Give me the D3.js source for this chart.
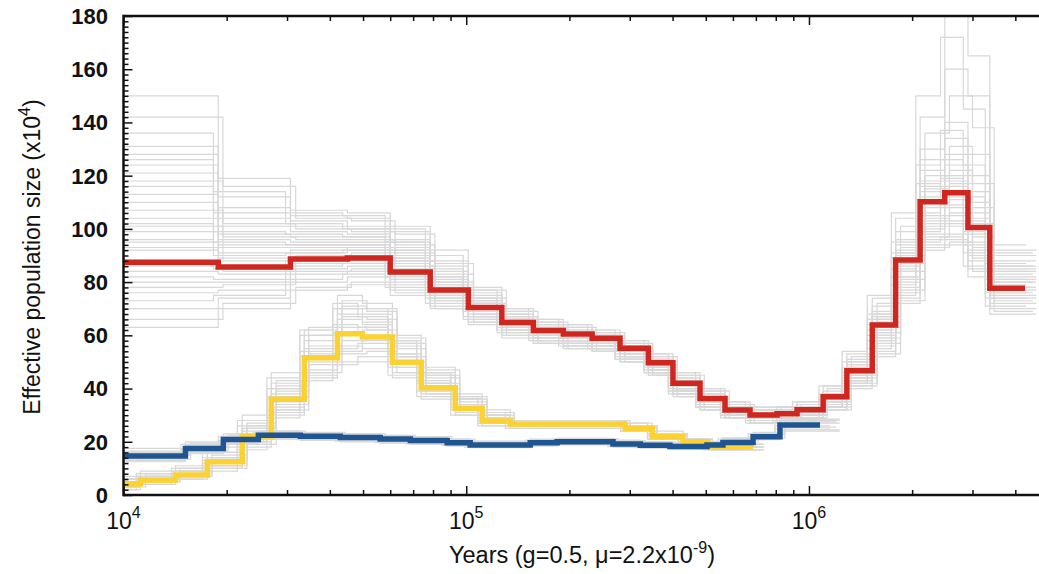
<!DOCTYPE html>
<html>
<head>
<meta charset="utf-8">
<script src="https://cdn.jsdelivr.net/npm/d3@7/dist/d3.min.js"></script>
<style>
  html, body { margin: 0; padding: 0; background: #fff; }
  svg { display: block; font-family: "Liberation Sans", Arial, Helvetica, sans-serif; }
</style>
</head>
<body>
<svg id="chart" width="1039" height="574"></svg>
<script>
// ---- data (years, effective population size x10^4) ----
const redTimes = [1.0e4, 1.89e4, 3.07e4, 4.50e4, 6.0e4, 7.85e4, 1.014e5, 1.27e5, 1.57e5, 1.92e5, 2.33e5, 2.81e5, 3.40e5, 4.01e5, 4.81e5, 5.69e5, 6.73e5, 8.07e5, 9.23e5, 1.10e6, 1.29e6, 1.53e6, 1.79e6, 2.11e6, 2.49e6, 2.91e6, 3.37e6, 4.27e6];
const redValues = [87.5, 85.7, 88.7, 89.1, 83.8, 77.0, 70.5, 64.8, 61.8, 60.5, 58.9, 55.1, 49.7, 42.0, 36.3, 31.9, 30.1, 30.5, 32.0, 36.9, 46.7, 63.9, 88.3, 110.2, 113.6, 100.5, 77.7];

const yellowTimes = [1.0e4, 1.12e4, 1.418e4, 1.757e4, 2.22e4, 2.70e4, 3.37e4, 4.21e4, 4.98e4, 6.09e4, 7.39e4, 9.29e4, 1.113e5, 1.343e5, 2.91e5, 3.49e5, 4.29e5, 5.08e5, 6.87e5];
const yellowValues = [4.1, 5.6, 7.5, 12.5, 22.0, 36.0, 51.6, 60.6, 59.4, 49.9, 40.3, 32.6, 27.8, 26.7, 25.0, 21.9, 20.0, 18.0];

const blueTimes = [1.0e4, 1.516e4, 1.956e4, 2.475e4, 3.28e4, 4.29e4, 5.61e4, 6.87e4, 8.80e4, 1.027e5, 1.537e5, 1.842e5, 2.68e5, 3.22e5, 3.93e5, 5.04e5, 5.61e5, 6.87e5, 8.23e5, 1.077e6];
const blueValues = [14.7, 17.5, 20.9, 22.5, 22.1, 21.6, 21.0, 20.5, 19.6, 18.8, 19.6, 20.0, 19.2, 18.7, 18.2, 18.8, 19.7, 21.9, 26.3];

// ---- bootstrap replicates (grey) ----
// alternative breakpoint sets used by some replicates
const redTimesB = [1.0e4, 1.95e4, 3.18e4, 4.62e4, 6.2e4, 8.1e4, 1.05e5, 1.31e5, 1.62e5, 1.98e5, 2.40e5, 2.90e5, 3.50e5, 4.13e5, 4.95e5, 5.86e5, 6.93e5, 8.3e5, 9.5e5, 1.13e6, 1.33e6, 1.58e6, 1.85e6, 2.18e6, 2.57e6, 3.0e6, 3.47e6, 4.5e6];
const redTimesC = [1.0e4, 1.83e4, 2.97e4, 4.36e4, 5.8e4, 7.6e4, 9.8e4, 1.23e5, 1.52e5, 1.86e5, 2.26e5, 2.72e5, 3.30e5, 3.89e5, 4.67e5, 5.52e5, 6.53e5, 7.83e5, 8.95e5, 1.07e6, 1.25e6, 1.48e6, 1.74e6, 2.05e6, 2.42e6, 2.82e6, 3.27e6, 4.3e6];
const redTimesA = [1.0e4, 1.89e4, 3.07e4, 4.50e4, 6.0e4, 7.85e4, 1.014e5, 1.27e5, 1.57e5, 1.92e5, 2.33e5, 2.81e5, 3.40e5, 4.01e5, 4.81e5, 5.69e5, 6.73e5, 8.07e5, 9.23e5, 1.10e6, 1.29e6, 1.53e6, 1.79e6, 2.11e6, 2.49e6, 2.91e6, 3.37e6, 4.6e6];
const redBootA = [
  [150,119,107,106,101,92,78,70,66,64,62,58,53,46,40,35,33,33,35,41,53,74,104,142,182,165,92],
  [131,112,105,104,99,88,76,69,65,63,61,57,52,45,39,34,32,33,34,39,51,71,99,130,160,150,90],
  [128,108,103,101,96,86,75,68,64,62,60,56,51,44,38,34,32,32,34,38,50,69,96,126,140,128,88],
  [124,104,101,100,95,84,74,67,63,61,60,56,51,43,38,33,31,32,33,38,49,68,94,122,134,120,86],
  [121,101,99,98,93,82,73,67,63,61,59,55,50,43,37,33,31,31,33,37,48,67,92,118,128,114,85],
  [113,98,97,97,92,81,73,66,62,60,59,55,50,42,37,32,30,31,32,37,47,66,91,116,124,110,84],
  [110,96,95,95,90,80,72,66,62,60,58,54,49,42,36,32,30,31,32,36,47,65,90,114,120,106,82],
  [104,94,94,94,89,79,71,65,61,59,58,54,49,41,36,32,30,30,32,36,46,64,88,112,118,104,81],
  [99,91,92,93,88,78,71,65,61,59,57,53,48,41,35,31,29,30,31,35,45,62,86,108,116,100,80],
  [95,89,91,92,87,77,70,64,60,58,57,53,48,40,35,31,29,30,31,35,45,61,84,105,112,98,78],
  [92,86,89,90,85,76,69,63,60,58,56,52,47,40,34,30,29,29,31,34,44,60,82,102,108,95,77],
  [84,83,87,88,83,75,68,63,59,57,56,52,47,39,34,30,28,29,30,34,43,59,80,100,105,92,75],
  [80,80,85,86,81,74,67,62,59,57,55,51,46,39,33,30,28,29,30,33,43,58,78,98,102,90,74],
  [76,77,83,84,79,73,66,61,58,56,55,51,46,38,33,29,28,28,30,33,42,56,76,96,98,88,72],
  [70,74,80,82,77,71,65,60,57,56,54,50,45,38,32,29,27,28,29,32,41,54,74,94,96,85,70],
  [63,70,77,79,75,70,64,59,57,55,54,50,45,37,32,29,27,28,29,32,40,52,72,92,94,82,68]
];
const redBootB = [
  [142,116,104,103,98,87,77,69,65,63,61,57,52,45,39,34,32,33,34,40,52,72,101,136,150,138,91],
  [118,102,100,99,94,83,74,67,63,61,60,56,50,43,37,33,31,32,33,37,49,67,93,120,131,117,86],
  [107,97,96,96,91,80,72,66,62,60,59,55,49,42,36,32,30,31,32,36,47,65,90,115,122,108,83],
  [101,93,93,93,88,79,71,65,61,59,58,54,49,41,36,31,30,30,32,36,46,63,87,110,117,102,80],
  [93,88,90,91,86,77,70,64,60,58,57,53,48,40,35,31,29,30,31,35,45,61,84,104,111,97,78],
  [86,84,88,89,84,75,68,63,60,58,56,52,47,39,34,30,29,29,30,34,44,59,81,101,106,93,76],
  [78,79,84,85,80,73,67,62,58,57,55,51,46,39,33,30,28,29,30,33,42,57,77,97,101,89,73],
  [66,72,78,80,76,70,65,60,57,55,54,50,45,37,32,29,27,28,29,32,41,53,73,93,95,84,69]
];
const redBootC = [
  [136,114,106,105,100,90,77,70,66,64,62,58,53,46,40,35,33,33,35,41,54,75,106,150,172,145,94],
  [126,106,102,100,95,85,74,68,64,62,60,56,51,44,38,33,31,32,33,38,50,68,95,124,137,124,87],
  [116,99,98,97,92,82,73,66,62,61,59,55,50,42,37,32,30,31,33,37,48,66,91,117,126,112,84],
  [102,95,94,94,89,80,72,65,61,59,58,54,49,41,36,32,30,30,32,36,46,64,89,111,119,103,81],
  [96,90,91,92,87,78,70,64,61,59,57,53,48,40,35,31,29,30,31,35,45,62,85,106,114,99,79],
  [88,85,88,89,84,76,69,63,60,58,56,52,47,39,34,30,29,29,31,34,44,60,82,103,109,94,76],
  [82,81,86,87,82,74,67,62,59,57,55,51,46,39,33,30,28,29,30,33,43,58,79,99,103,91,74],
  [73,75,81,83,78,72,66,61,58,56,55,51,46,38,33,29,27,28,29,33,42,55,75,95,97,86,71]
];

const yellowTimesA = [1.0e4, 1.12e4, 1.418e4, 1.757e4, 2.22e4, 2.70e4, 3.37e4, 4.21e4, 4.98e4, 6.09e4, 7.39e4, 9.29e4, 1.113e5, 1.343e5, 2.91e5, 3.49e5, 4.29e5, 5.08e5, 7.3e5];
const yellowTimesB = [1.0e4, 1.16e4, 1.46e4, 1.81e4, 2.29e4, 2.79e4, 3.47e4, 4.34e4, 5.13e4, 6.28e4, 7.62e4, 9.57e4, 1.15e5, 1.38e5, 3.0e5, 3.6e5, 4.42e5, 5.23e5, 7.4e5];
const yellowTimesC = [1.0e4, 1.09e4, 1.38e4, 1.70e4, 2.15e4, 2.62e4, 3.27e4, 4.08e4, 4.83e4, 5.91e4, 7.17e4, 9.01e4, 1.08e5, 1.30e5, 2.82e5, 3.38e5, 4.16e5, 4.93e5, 7.0e5];
const yellowBootA = [
  [6,8,10,16,28,42,62,75,72,60,48,38,32,28,26,23,21,19],
  [5,7,9,14,25,40,58,70,68,56,45,36,30,28,26,22,20,18],
  [3,5,7,11,20,33,47,56,55,46,38,31,27,26,24,21,19,17],
  [2,4,6,10,18,30,45,50,50,44,36,30,26,25,24,21,19,17],
  [5,6,8,13,24,38,55,66,65,53,42,34,29,27,25,22,20,18],
  [4,6,8,12,22,35,50,60,62,52,41,33,28,27,25,22,20,18],
  [7,9,11,18,30,46,60,68,64,58,46,36,30,28,27,24,21,19],
  [3,5,7,11,19,31,44,54,58,48,39,32,28,26,24,22,19,17]
];
const yellowBootB = [
  [6,8,10,15,27,43,63,73,70,59,47,37,31,28,26,23,21,19],
  [4,6,8,12,23,37,53,63,62,52,42,34,29,27,25,22,20,18],
  [3,5,7,10,19,32,46,53,54,46,38,31,27,26,24,21,19,17],
  [5,7,9,13,25,39,56,67,66,55,44,35,30,28,26,22,20,18],
  [4,5,7,11,21,34,49,58,60,50,40,32,28,26,25,22,19,17],
  [6,7,9,14,26,41,60,71,69,57,45,36,31,28,26,23,21,19]
];
const yellowBootC = [
  [5,7,9,14,26,40,60,72,70,58,46,37,31,28,26,23,21,19],
  [3,5,7,11,20,32,46,55,57,48,39,32,27,26,24,21,19,17],
  [4,6,8,13,23,37,54,64,63,53,43,34,29,27,25,22,20,18],
  [6,8,10,16,28,44,62,70,67,57,46,36,30,28,27,23,21,19],
  [2,4,6,9,17,29,43,49,52,45,37,30,26,25,24,21,19,17],
  [5,6,8,12,22,36,52,61,63,52,42,33,28,27,25,22,20,18]
];

const blueTimesA = [1.0e4, 1.516e4, 1.956e4, 2.475e4, 3.28e4, 4.29e4, 5.61e4, 6.87e4, 8.80e4, 1.027e5, 1.537e5, 1.842e5, 2.68e5, 3.22e5, 3.93e5, 5.04e5, 5.61e5, 6.87e5, 8.23e5, 1.23e6];
const blueTimesB = [1.0e4, 1.57e4, 2.02e4, 2.56e4, 3.39e4, 4.43e4, 5.80e4, 7.10e4, 9.1e4, 1.06e5, 1.59e5, 1.90e5, 2.77e5, 3.33e5, 4.06e5, 5.21e5, 5.80e5, 7.10e5, 8.5e5, 1.20e6];
const blueTimesC = [1.0e4, 1.47e4, 1.89e4, 2.39e4, 3.17e4, 4.15e4, 5.43e4, 6.65e4, 8.5e4, 9.9e4, 1.49e5, 1.78e5, 2.59e5, 3.11e5, 3.80e5, 4.87e5, 5.43e5, 6.65e5, 7.96e5, 1.15e6];
const blueBootA = [
  [16,19,22,23.5,23,22.5,22,21.5,20.5,19.8,20.5,21,20.2,19.7,19.2,19.8,21,23,28],
  [13,16,19.5,21.5,21,20.5,20,19.5,18.8,18.2,18.8,19.2,18.4,18,17.5,18,19,21,24.5],
  [15.5,18.5,21.5,23,22.6,22,21.5,21,20,19.3,20,20.5,19.6,19.2,18.7,19.3,20.5,22.5,27],
  [12.5,15.5,19,21,20.5,20,19.5,19,18.4,17.8,18.4,18.8,18,17.6,17.2,17.8,18.8,20.8,24],
  [17.5,20,23,24,23.4,23,22.4,21.8,21,20.3,21,21.3,20.6,20,19.6,20.2,21.5,23.5,28.5]
];
const blueBootB = [
  [15,18,21.5,23,22.8,22.3,21.8,21.2,20.3,19.5,20.2,20.8,19.8,19.4,18.9,19.5,20.6,22.8,27.5],
  [13.5,16.5,20,22,21.5,21,20.5,20,19.2,18.5,19.2,19.6,18.8,18.3,17.9,18.4,19.4,21.4,25.5],
  [16.5,19.5,22.5,24,23.5,23,22.4,21.9,21,20.2,20.8,21.2,20.4,20,19.5,20.1,21.3,23.4,28.2]
];
const blueBootC = [
  [14,17,20.5,22.2,21.8,21.3,20.8,20.3,19.5,18.7,19.4,19.8,19,18.5,18.1,18.6,19.6,21.7,26],
  [16,19,22,23.6,23.1,22.7,22.1,21.5,20.7,19.9,20.6,21,20.3,19.8,19.3,19.9,21.1,23.1,27.8],
  [12.8,15.8,19.2,21.2,20.8,20.2,19.7,19.2,18.6,18,18.6,19,18.2,17.8,17.4,17.9,19,21,24.8]
];

// axis ticks / labels
const xMajorTicks = [1e4, 1e5, 1e6];
const xMajorExponents = ["4", "5", "6"];
const yMajorTicks = [0, 20, 40, 60, 80, 100, 120, 140, 160, 180];
const xLabel = "Years (g=0.5, \u03bc=2.2x10";
const xLabelExp = "-9";
const yLabel = "Effective population size (x10";
const yLabelExp = "4";

// ---- layout ----
const mLeft = 123.5, mRight = 1039, mTop = 16, mBottom = 495;
const svg = d3.select("#chart");

const x = d3.scaleLog().domain([1e4, 4.69e6]).range([mLeft, mRight]);
const y = d3.scaleLinear().domain([0, 180]).range([mBottom, mTop]);

svg.append("defs").append("clipPath").attr("id", "plotclip")
  .append("rect").attr("x", mLeft).attr("y", mTop).attr("width", mRight - mLeft).attr("height", mBottom - mTop);

const plot = svg.append("g").attr("clip-path", "url(#plotclip)");

function steps(times, values) {
  const pts = values.map((v, i) => [times[i], v]);
  pts.push([times[values.length], values[values.length - 1]]);
  return pts;
}
const line = d3.line().x(d => x(d[0])).y(d => y(d[1])).curve(d3.curveStepAfter);

const greyColor = "#d8d8d8";
const bootGroups = [
  [redBootA, redTimesA], [redBootB, redTimesB], [redBootC, redTimesC],
  [yellowBootA, yellowTimesA], [yellowBootB, yellowTimesB], [yellowBootC, yellowTimesC],
  [blueBootA, blueTimesA], [blueBootB, blueTimesB], [blueBootC, blueTimesC]
];
bootGroups.forEach(([reps, times]) => {
  reps.forEach(r => {
    plot.append("path").attr("d", line(steps(times, r)))
      .attr("fill", "none").attr("stroke", greyColor).attr("stroke-width", 1.2);
  });
});

const mains = [
  [redTimes, redValues, "#cf271f"],
  [yellowTimes, yellowValues, "#fbd232"],
  [blueTimes, blueValues, "#1f5591"]
];
mains.forEach(([t, v, c]) => {
  plot.append("path").attr("d", line(steps(t, v)))
    .attr("fill", "none").attr("stroke", c).attr("stroke-width", 5.5)
    .attr("stroke-linejoin", "miter").attr("stroke-linecap", "butt");
});

// ---- axes ----
const axisG = svg.append("g");
const minorX = [];
[1e4, 1e5, 1e6].forEach(d => { for (let k = 2; k <= 9; k++) { const v = d * k; if (v < 4.69e6) minorX.push(v); } });

const gB = axisG.append("g").attr("transform", `translate(0,${mBottom})`)
  .call(d3.axisTop(x).tickValues(xMajorTicks).tickSize(9).tickFormat(""));
const gBm = axisG.append("g").attr("transform", `translate(0,${mBottom})`)
  .call(d3.axisTop(x).tickValues(minorX).tickSize(5).tickFormat(""));
const gT = axisG.append("g").attr("transform", `translate(0,${mTop})`)
  .call(d3.axisBottom(x).tickValues(xMajorTicks).tickSize(9).tickFormat(""));
const gTm = axisG.append("g").attr("transform", `translate(0,${mTop})`)
  .call(d3.axisBottom(x).tickValues(minorX).tickSize(5).tickFormat(""));
const minorY = d3.range(0, 181, 2).filter(v => v % 20 !== 0);
const gL = axisG.append("g").attr("transform", `translate(${mLeft},0)`)
  .call(d3.axisRight(y).tickValues(yMajorTicks).tickSize(9).tickFormat(""));
const gLm = axisG.append("g").attr("transform", `translate(${mLeft},0)`)
  .call(d3.axisRight(y).tickValues(minorY).tickSize(5).tickFormat(""));

[gB, gBm, gT, gTm, gL, gLm].forEach(g => {
  g.select(".domain").remove();
  g.selectAll(".tick line").attr("stroke", "#111").attr("stroke-width", 1.5);
});

axisG.append("line").attr("x1", mLeft).attr("x2", mRight).attr("y1", mBottom).attr("y2", mBottom)
  .attr("stroke", "#111").attr("stroke-width", 2.5);
axisG.append("line").attr("x1", mLeft).attr("x2", mRight).attr("y1", mTop).attr("y2", mTop)
  .attr("stroke", "#111").attr("stroke-width", 2.5);
axisG.append("line").attr("x1", mLeft).attr("x2", mLeft).attr("y1", mTop - 1.2).attr("y2", mBottom + 1.2)
  .attr("stroke", "#111").attr("stroke-width", 2.5);

// y tick labels
svg.append("g").selectAll("text").data(yMajorTicks).join("text")
  .attr("x", 108).attr("y", d => y(d)).attr("dy", "0.36em")
  .attr("text-anchor", "end").attr("font-size", 22).attr("font-weight", "bold")
  .attr("fill", "#111").text(d => d);

// x tick labels with superscript exponent
const xl = svg.append("g").selectAll("text").data(xMajorTicks).join("text")
  .attr("x", d => x(d)).attr("y", 529).attr("text-anchor", "middle")
  .attr("font-size", 23).attr("fill", "#111");
xl.append("tspan").text("10");
xl.append("tspan").attr("font-size", 16).attr("dy", -11).text((d, i) => xMajorExponents[i]);

// x axis title
const xt = svg.append("text").attr("x", 582).attr("y", 563).attr("text-anchor", "middle")
  .attr("font-size", 23.5).attr("fill", "#111");
xt.append("tspan").text(xLabel);
xt.append("tspan").attr("font-size", 16).attr("dy", -10).text(xLabelExp);
xt.append("tspan").attr("dy", 10).text(")");

// y axis title
const yt = svg.append("text").attr("transform", "translate(40,257) rotate(-90)")
  .attr("text-anchor", "middle").attr("font-size", 23).attr("fill", "#111");
yt.append("tspan").text(yLabel);
yt.append("tspan").attr("font-size", 16).attr("dy", -10).text(yLabelExp);
yt.append("tspan").attr("dy", 10).text(")");
</script>
</body>
</html>
